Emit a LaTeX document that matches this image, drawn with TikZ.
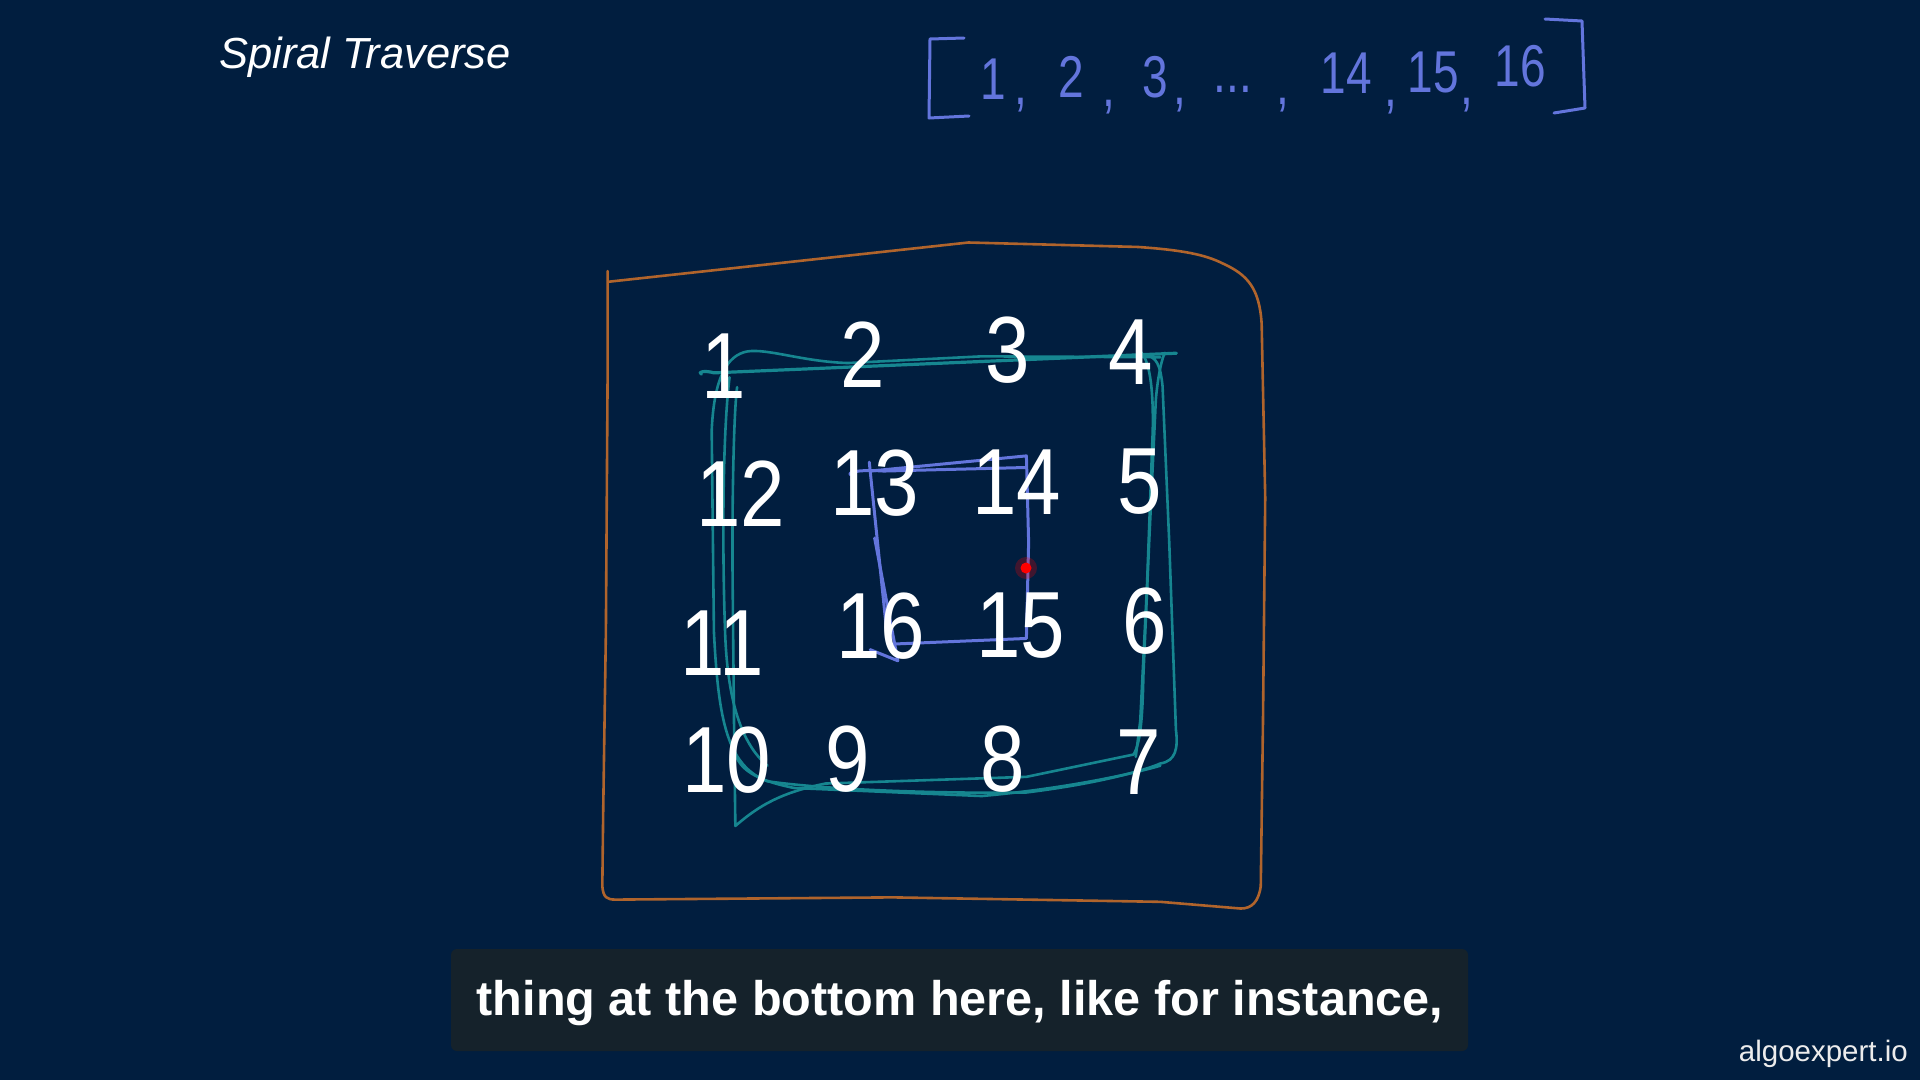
\documentclass[tikz,border=0pt]{standalone}
\usepackage{fontspec}
\usepackage{graphicx}
\setmainfont{Liberation Sans}
\definecolor{bg}{HTML}{011E3F}
\definecolor{subbg}{HTML}{15222B}
\definecolor{listblue}{HTML}{6375DC}
\definecolor{tealline}{HTML}{168690}
\definecolor{orangeline}{HTML}{B0642C}
\tikzset{
  griddigit/.style={font=\fontsize{94}{94}\selectfont, text=white, inner sep=0pt, anchor=center},
  listtok/.style={font=\fontsize{59}{59}\selectfont, text=listblue, inner sep=0pt, anchor=center},
  listcomma/.style={font=\fontsize{59}{59}\selectfont, text=listblue, inner sep=0pt, anchor=base},
  boxline/.style={draw=orangeline, line width=2.6pt, line join=round, line cap=round},
  tealstroke/.style={draw=tealline, line width=2.6pt, line join=round, line cap=round},
  bluestroke/.style={draw=listblue, line width=3pt, line join=round, line cap=round},
}
\newcommand{\gd}[1]{\scalebox{0.85}[1]{#1}}
\newcommand{\ld}[1]{\scalebox{0.78}[1]{#1}}
\begin{document}
\begin{tikzpicture}[x=1pt,y=-1pt]
\fill[bg] (0,0) rectangle (1920,1080);
\useasboundingbox (0,0) rectangle (1920,1080);

% title
\node[anchor=base west, inner sep=0pt, font=\fontsize{43.5}{43.5}\selectfont\itshape, text=white] (title) at (219,68) {Spiral Traverse};

% list brackets
\draw[bluestroke] (964,38) -- (930,39) -- (929,118) -- (969,116);
\draw[bluestroke] (1545,19) -- (1582,21) -- (1585,108) -- (1554,113);
% list tokens
\node[listtok] (l1) at (993,79) {\ld{1}};
\node[listcomma] (c1) at (1021,104) {\ld{,}};
\node[listtok] (l2) at (1071,77) {\ld{2}};
\node[listcomma] (c2) at (1109,106) {\ld{,}};
\node[listtok] (l3) at (1155,77) {\ld{3}};
\node[listcomma] (c3) at (1180,104) {\ld{,}};
\node[listcomma] (dots) at (1233,92) {\ld{...}};
\node[listcomma] (c4) at (1283,104) {\ld{,}};
\node[listtok] (l14) at (1346,73) {\ld{14}};
\node[listcomma] (c5) at (1391,106) {\ld{,}};
\node[listtok] (l15) at (1433,72) {\ld{15}};
\node[listcomma] (c6) at (1467,104) {\ld{,}};
\node[listtok] (l16) at (1520,66) {\ld{16}};

% hand-drawn strokes, in local coordinates
\begin{scope}[shift={(580,230)}, x=0.4464pt, y=-0.4464pt]
\draw[boxline] (62,92) -- (62,300) -- (58,900) -- (52,1300) -- (50,1470)
  .. controls (52,1495) and (60,1500) .. (80,1500) -- (700,1495) -- (1300,1505) -- (1480,1520)
  .. controls (1505,1520) and (1520,1505) .. (1525,1470) -- (1530,1100) -- (1535,600) -- (1527,210)
  .. controls (1522,130) and (1495,100) .. (1440,75)
  .. controls (1400,55) and (1350,45) .. (1250,38) -- (870,28) -- (63,116);

\draw[tealstroke, line width=3.2pt] (272,323) .. controls (262,318) and (280,314) .. (300,320) -- (700,303) -- (1336,276);
\draw[tealstroke] (1300,285) -- (900,283) -- (600,298)
  .. controls (500,295) and (420,265) .. (375,272)
  .. controls (330,280) and (300,330) .. (295,450) -- (300,900)
  .. controls (310,1100) and (330,1200) .. (420,1235)
  .. controls (600,1260) and (900,1262) .. (1000,1260)
  .. controls (1200,1235) and (1290,1200) .. (1300,1195)
  .. controls (1335,1190) and (1340,1160) .. (1335,1120) -- (1320,700) -- (1305,350)
  .. controls (1300,300) and (1290,285) .. (1270,282);
\draw[tealstroke] (352,352) .. controls (345,400) and (340,600) .. (342,800) -- (345,1100) -- (348,1335)
  .. controls (400,1290) and (450,1260) .. (550,1240) -- (1000,1225) -- (1240,1175)
  .. controls (1255,1150) and (1260,1100) .. (1262,1000) -- (1275,700) -- (1290,380)
  .. controls (1295,320) and (1305,285) .. (1310,275);
\draw[tealstroke] (345,1150) .. controls (345,1200) and (380,1230) .. (480,1250) -- (900,1268)
  .. controls (1100,1250) and (1250,1215) .. (1300,1200);
\draw[tealstroke] (1255,272) .. controls (1275,290) and (1285,350) .. (1283,450) -- (1270,800) -- (1255,1100) -- (1245,1180);
\draw[tealstroke] (335,330) .. controls (320,450) and (318,700) .. (325,900) .. controls (330,1050) and (360,1150) .. (420,1200);

\draw[bluestroke] (605,548) .. controls (600,540) and (640,537) .. (680,540) -- (1000,532);
\draw[bluestroke] (650,540) -- (1000,506) -- (1005,700) -- (1000,915) -- (690,928) -- (648,520);
\draw[bluestroke] (660,690) -- (712,965) -- (650,940);
\end{scope}

% grid numbers
\node[griddigit] (n1) at (724,366) {\gd{1}};
\node[griddigit] (n2) at (863,355) {\gd{2}};
\node[griddigit] (n3) at (1008,350) {\gd{3}};
\node[griddigit] (n4) at (1131,352) {\gd{4}};
\node[griddigit] (n12) at (741,494) {\gd{12}};
\node[griddigit] (n13) at (875,483) {\gd{13}};
\node[griddigit] (n14) at (1017,482) {\gd{14}};
\node[griddigit] (n5) at (1140,482) {\gd{5}};
\node[griddigit] (n11) at (722,643) {\gd{11}};
\node[griddigit] (n16) at (881,626) {\gd{16}};
\node[griddigit] (n15) at (1021,626) {\gd{15}};
\node[griddigit] (n6) at (1145,621) {\gd{6}};
\node[griddigit] (n10) at (727,760) {\gd{10}};
\node[griddigit] (n9) at (848,759) {\gd{9}};
\node[griddigit] (n8) at (1003,759) {\gd{8}};
\node[griddigit] (n7) at (1139,762) {\gd{7}};

% pointer dot
\fill[red, opacity=0.25] (1026,568) circle (11);
\fill[red] (1026,568) circle (5.5);

% subtitle
\node[fill=subbg, rounded corners=6pt, minimum width=1017pt, minimum height=102pt, inner sep=0pt] (subbox) at (959.5,1000) {};
\node[anchor=base, inner sep=0pt, font=\fontsize{48.6}{48.6}\selectfont\bfseries, text=white] (subtext) at (960,1015) {thing at the bottom here, like for instance,};

% watermark
\node[anchor=base east, inner sep=0pt, font=\fontsize{29.5}{29.5}\selectfont, text=white!85!gray] (wm) at (1908,1061) {algoexpert.io};
\end{tikzpicture}
\end{document}
